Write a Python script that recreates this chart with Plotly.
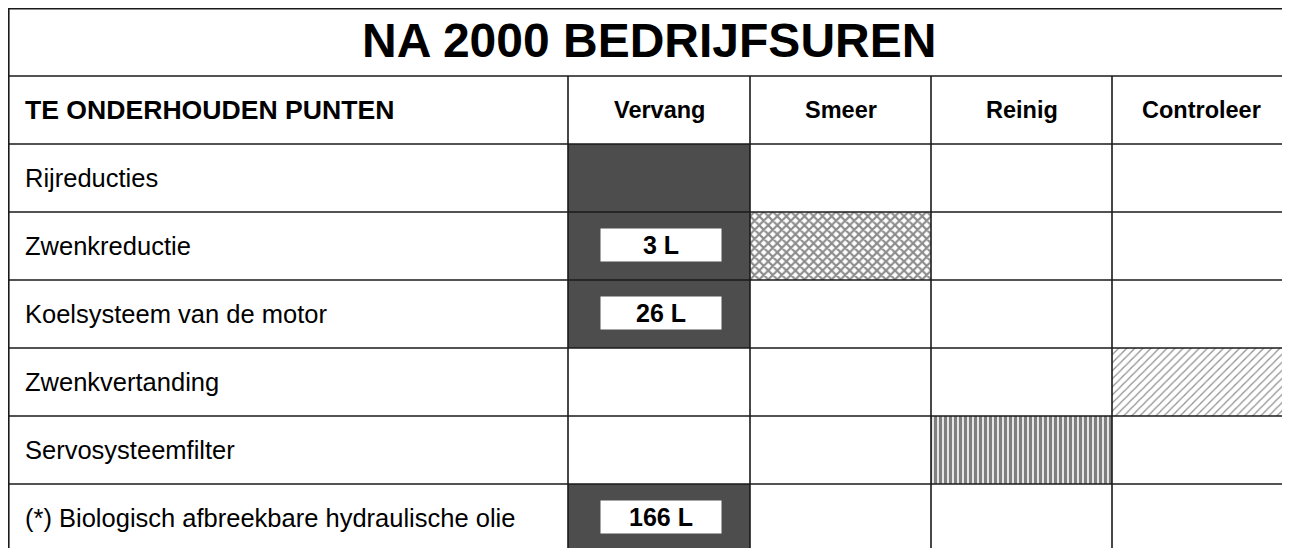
import plotly.graph_objects as go

# ---------------- data ----------------
title = "NA 2000 BEDRIJFSUREN"
header_label = "TE ONDERHOUDEN PUNTEN"
columns = ["Vervang", "Smeer", "Reinig", "Controleer"]
rows = [
    "Rijreducties",
    "Zwenkreductie",
    "Koelsysteem van de motor",
    "Zwenkvertanding",
    "Servosysteemfilter",
    "(*) Biologisch afbreekbare hydraulische olie",
]
vervang = [1, 1, 1, 0, 0, 1]
vervang_volume = ["", "3 L", "26 L", "", "", "166 L"]
smeer = [0, 1, 0, 0, 0, 0]
reinig = [0, 0, 0, 0, 1, 0]
controleer = [0, 0, 0, 1, 0, 0]

# ---------------- layout constants ----------------
PAGE_MARGIN = 8          # browser default body margin
W, H = 1290, 548         # window size
col_edges = [8, 568, 750, 931, 1112, W]
title_top, header_top, body_top, row_h = 8, 76, 144, 68
FONT = "Liberation Sans, Arial, sans-serif"
LINE = dict(color="#1a1a1a", width=1.6)


def row_center(i):
    return body_top + row_h * i + row_h / 2


def col_span(j):
    return col_edges[j + 1], col_edges[j + 2]


fig = go.Figure()


def add_cells(flags, col_idx, **marker):
    x0, x1 = col_span(col_idx)
    ys = [row_center(i) for i, f in enumerate(flags) if f]
    fig.add_trace(go.Bar(
        orientation="h",
        y=ys,
        x=[x1 - x0] * len(ys),
        base=[x0] * len(ys),
        width=[row_h] * len(ys),
        marker=dict(line=dict(width=0), **marker),
        showlegend=False,
        hoverinfo="skip",
    ))


add_cells(vervang, 0, color="#4d4d4d")
add_cells(smeer, 1, color="white",
          pattern=dict(shape="x", size=6.4, solidity=0.55, fgcolor="#1a1a1a", bgcolor="white"))
add_cells(reinig, 2, color="white",
          pattern=dict(shape="|", size=5, solidity=0.68, fgcolor="#000000", bgcolor="white"))
add_cells(controleer, 3, color="white",
          pattern=dict(shape="/", size=5.7, solidity=0.22, fgcolor="#222222", bgcolor="white"))

annotations = []
# title
annotations.append(dict(x=(col_edges[0] + W) / 2, y=40,
                        text=title, showarrow=False, xanchor="center", yanchor="middle",
                        font=dict(family=FONT, size=48, color="black", weight="bold")))
# header row
annotations.append(dict(x=23, y=(header_top + body_top) / 2, text=header_label,
                        showarrow=False, xanchor="left", yanchor="middle",
                        font=dict(family=FONT, size=26.6, color="black", weight="bold")))
for j, c in enumerate(columns):
    x0, x1 = col_span(j)
    annotations.append(dict(x=(x0 + x1) / 2, y=(header_top + body_top) / 2, text=c,
                            showarrow=False, xanchor="center", yanchor="middle",
                            font=dict(family=FONT, size=23.5, color="black", weight="bold")))
# row labels
for i, r in enumerate(rows):
    annotations.append(dict(x=23, y=row_center(i), text=r, showarrow=False,
                            xanchor="left", yanchor="middle",
                            font=dict(family=FONT, size=25.5, color="black")))
# volume boxes
vx0, vx1 = col_span(0)
for i, v in enumerate(vervang_volume):
    if v:
        annotations.append(dict(x=(vx0 + vx1) / 2 + 2, y=row_center(i) - 1, text=v,
                                showarrow=False, xanchor="center", yanchor="middle",
                                width=120, height=32, bgcolor="white", borderpad=0,
                                align="center", valign="middle",
                                font=dict(family=FONT, size=25, color="black", weight="bold")))

shapes = []
# outer top & left (nudged inward so they are not clipped at the plot edge)
shapes.append(dict(type="line", x0=col_edges[0], x1=W, y0=title_top + 0.8, y1=title_top + 0.8, line=LINE))
shapes.append(dict(type="line", x0=col_edges[0] + 0.8, x1=col_edges[0] + 0.8, y0=title_top, y1=H + 5, line=LINE))
# horizontal lines
for k in range(len(rows) + 2):
    y = header_top + row_h * k
    if y < H:
        shapes.append(dict(type="line", x0=col_edges[0], x1=W, y0=y, y1=y, line=LINE))
# vertical lines
for x in col_edges[1:-1]:
    shapes.append(dict(type="line", x0=x, x1=x, y0=header_top, y1=H + 5, line=LINE))
for s in shapes:
    s.update(xref="x", yref="y", layer="above")

fig.update_layout(
    width=W - PAGE_MARGIN, height=H - PAGE_MARGIN,
    margin=dict(l=0, r=0, t=0, b=0),
    paper_bgcolor="white", plot_bgcolor="white",
    xaxis=dict(range=[PAGE_MARGIN, W], visible=False, fixedrange=True),
    yaxis=dict(range=[H, PAGE_MARGIN], visible=False, fixedrange=True),
    barmode="overlay",
    shapes=shapes,
    annotations=annotations,
    showlegend=False,
)

fig.write_html("out.html")
